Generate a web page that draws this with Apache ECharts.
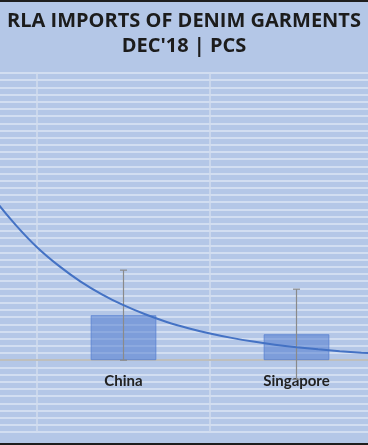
<!DOCTYPE html>
<html>
<head>
<meta charset="utf-8">
<script src="https://cdn.jsdelivr.net/npm/echarts@6/dist/echarts.min.js"></script>
<style>html,body{margin:0;padding:0;background:#b4c7e7;}#c{width:368px;height:445px;}</style>
</head>
<body>
<div id="c"></div>
<script>
// ---- data ----
const categories = ['', 'China', 'Singapore'];      // first category lies off-canvas
const imports = [null, 6270, 3620];                  // pcs
const errorAmount = [null, 6270, 6270];              // standard-error bars
// exponential trendline (x = category index position)
const trendX = [0, 0.125, 0.25, 0.375, 0.5, 0.625, 0.75, 0.875, 1, 1.125, 1.25, 1.375, 1.5, 1.625, 1.75, 1.875, 2, 2.125, 2.25, 2.375, 2.5];
const trendY = [32450, 27080, 22560, 18890, 15740, 13170, 10990, 9180, 7660, 6395, 5330, 4460, 3720, 3107, 2590, 2166, 1810, 1510, 1260, 1052, 880];
const yTicks = {min: -10000, max: 40000, interval: 1000};
const titleLines = ['RLA IMPORTS OF DENIM GARMENTS', "DEC'18 | PCS"];

const errData = [];
for (let i = 0; i < categories.length; i++) {
  if (imports[i] != null) errData.push([i, imports[i] - errorAmount[i], imports[i] + errorAmount[i]]);
}
const trendData = trendX.map((x, i) => [x, trendY[i]]);

const chart = echarts.init(document.getElementById('c'), null, {renderer: 'canvas'});
chart.setOption({
  animation: false,
  backgroundColor: '#b4c7e7',
  title: {
    text: titleLines.join('\n'),
    left: 'center',
    top: 4,
    textStyle: {fontFamily: 'Open Sans', fontWeight: 'bold', fontSize: 20, color: '#1c1c1c', lineHeight: 25}
  },
  grid: {left: -136, right: -15, top: 73, bottom: 13, containLabel: false, outerBoundsMode: 'none'},
  xAxis: [{
    type: 'category',
    data: categories,
    boundaryGap: true,
    axisLine: {show: true, onZero: true, lineStyle: {color: '#b9b4aa', width: 1.5}},
    axisTick: {show: false},
    axisLabel: {show: false},
    splitLine: {show: true, lineStyle: {color: '#d2dcee', width: 1.5}}
  }, {
    type: 'value', min: -0.5, max: 2.5, show: false
  }, {
    type: 'category',
    data: categories,
    boundaryGap: true,
    position: 'bottom',
    offset: -72,
    axisLine: {show: false},
    axisTick: {show: false},
    splitLine: {show: false},
    axisLabel: {margin: 14, fontFamily: 'Lato', fontWeight: 'bold', fontSize: 15, color: '#222222'}
  }],
  yAxis: {
    type: 'value', min: yTicks.min, max: yTicks.max, interval: yTicks.interval,
    axisLabel: {show: false}, axisLine: {show: false}, axisTick: {show: false},
    splitLine: {show: true, lineStyle: {color: '#dde6f5', width: 1.5}}
  },
  series: [{
    type: 'bar',
    data: imports,
    barWidth: '38%',
    itemStyle: {color: 'rgba(70,115,205,0.5)', borderColor: 'rgba(90,130,210,0.8)', borderWidth: 1},
    z: 2
  }, {
    type: 'custom',
    data: errData,
    z: 4,
    renderItem: function (params, api) {
      const x = api.value(0);
      const lo = api.coord([x, api.value(1)]);
      const hi = api.coord([x, api.value(2)]);
      const st = {stroke: '#8a8a8a', lineWidth: 1.2};
      return {type: 'group', children: [
        {type: 'line', shape: {x1: lo[0], y1: lo[1], x2: hi[0], y2: hi[1]}, style: st},
        {type: 'line', shape: {x1: hi[0] - 3.5, y1: hi[1], x2: hi[0] + 3.5, y2: hi[1]}, style: st},
        {type: 'line', shape: {x1: lo[0] - 3.5, y1: lo[1], x2: lo[0] + 3.5, y2: lo[1]}, style: st}
      ]};
    }
  }, {
    type: 'line',
    xAxisIndex: 1,
    data: trendData,
    smooth: 0.3,
    showSymbol: false,
    lineStyle: {color: '#4472c4', width: 2},
    z: 5
  }],
  graphic: [
    {type: 'rect', shape: {x: 0, y: 0, width: 368, height: 2}, style: {fill: '#1e1e1e'}, z: 100},
    {type: 'rect', shape: {x: 0, y: 443, width: 368, height: 2}, style: {fill: '#1e1e1e'}, z: 100}
  ]
});
</script>
</body>
</html>
